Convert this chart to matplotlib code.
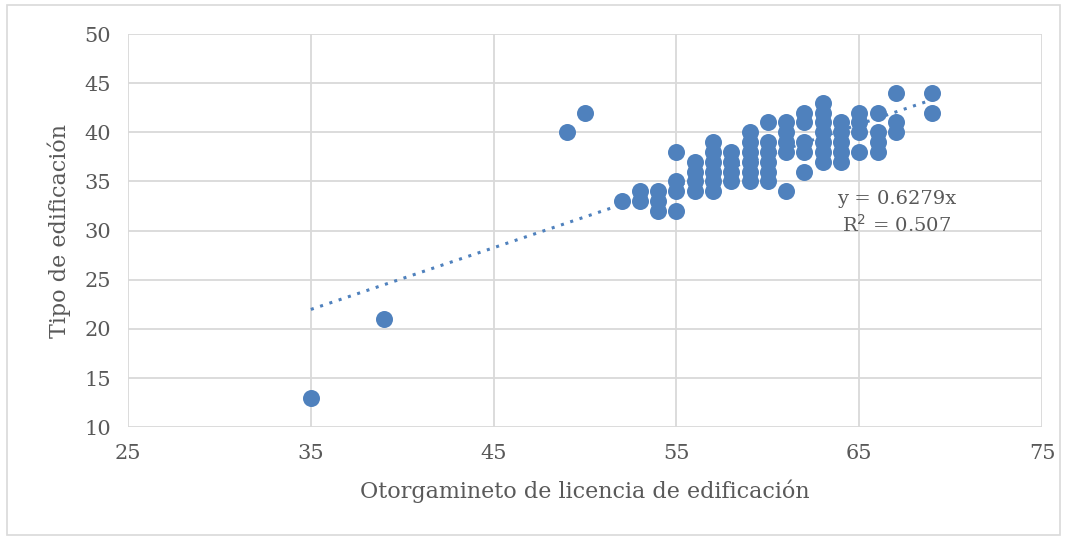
import matplotlib
matplotlib.use("Agg")
import matplotlib.pyplot as plt
from matplotlib.patches import Rectangle

# datos (x = otorgamiento, y = tipo de edificacion)
columnas_x = [35, 39, 49, 50, 52, 53, 54, 55, 56, 57, 58, 59, 60, 61, 62, 63, 64, 65, 66, 67, 69]
columnas_y = [
    [13],
    [21],
    [40],
    [42],
    [33],
    [33, 34],
    [32, 33, 34],
    [32, 34, 35, 38],
    [34, 35, 36, 37],
    [34, 35, 36, 37, 38, 39],
    [35, 36, 37, 38],
    [35, 36, 37, 38, 39, 40],
    [35, 36, 37, 38, 39, 41],
    [34, 38, 39, 40, 41],
    [36, 38, 39, 41, 42],
    [37, 38, 39, 40, 41, 42, 43],
    [37, 38, 39, 40, 41],
    [38, 40, 41, 42],
    [38, 39, 40, 42],
    [40, 41, 44],
    [42, 44],
]
pendiente = 0.6279
r2 = 0.507
x_ticks = [25, 35, 45, 55, 65, 75]
y_ticks = [10, 15, 20, 25, 30, 35, 40, 45, 50]

xs = []
ys = []
for x, col in zip(columnas_x, columnas_y):
    for y in col:
        xs.append(x)
        ys.append(y)

plt.rcParams['font.family'] = ['DejaVu Serif']
gris = "#595959"

fig = plt.figure(figsize=(10.67, 5.4), dpi=100)
ax = fig.add_axes([0.12, 0.209, 0.8566, 0.728])

ax.scatter(xs, ys, s=150, color="#4f81bd", zorder=3, linewidths=0)

# linea de tendencia (por el origen)
x0, x1 = min(xs), max(xs)
ax.plot([x0, x1], [pendiente * x0, pendiente * x1], linestyle=(0, (1, 2.2)),
        color="#4f81bd", linewidth=2.2, zorder=4)

ax.text(0.841, 0.545, f"y = {pendiente}x\nR$^2$ = {r2}",
        transform=ax.transAxes, ha="center", va="center", fontsize=14, color=gris,
        linespacing=1.3, zorder=5)

ax.set_xlim(25, 75)
ax.set_ylim(10, 50)
ax.set_xticks(x_ticks)
ax.set_yticks(y_ticks)
ax.grid(True, color="#d9d9d9", linewidth=1.3, zorder=0)
for s in ax.spines.values():
    s.set_visible(False)
ax.tick_params(length=0, labelsize=15, colors=gris, pad=12)
ax.tick_params(axis="y", pad=12)
ax.set_xlabel("Otorgamineto de licencia de edificación", fontsize=16, color=gris, labelpad=12)
ax.set_ylabel("Tipo de edificación", fontsize=16, color=gris, labelpad=10)

fig.patches.append(Rectangle((0.007, 0.01), 0.986, 0.98, transform=fig.transFigure,
                             fill=False, edgecolor="#d9d9d9", linewidth=1.2))

fig.savefig("out.png", dpi=100)
